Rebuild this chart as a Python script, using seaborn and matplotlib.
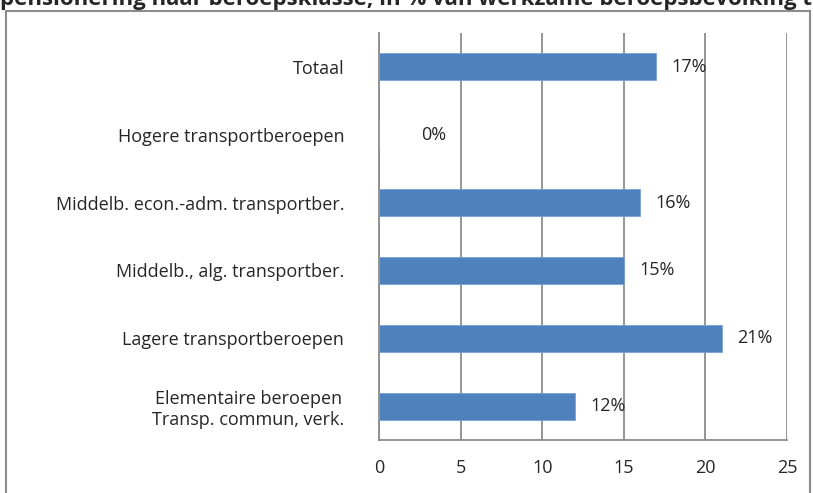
import matplotlib
matplotlib.use("Agg")
import matplotlib.pyplot as plt
import seaborn as sns
import pandas as pd
from matplotlib.patches import Rectangle

# === Data ===
categories = [
    "Totaal",
    "Hogere transportberoepen",
    "Middelb. econ.-adm. transportber.",
    "Middelb., alg. transportber.",
    "Lagere transportberoepen",
    "Elementaire beroepen\nTransp. commun, verk.",
]
values = [17, 0, 16, 15, 21, 12]
x_ticks = [0, 5, 10, 15, 20, 25]
title = "pensionering naar beroepsklasse, in % van werkzame beroepsbevolking transport"

df = pd.DataFrame({"cat": categories, "val": values})

# === Style ===
sns.set_style("white")
plt.rcParams["font.family"] = ["Open Sans", "DejaVu Sans"]

fig = plt.figure(figsize=(8.13, 4.93), dpi=100)
ax = fig.add_axes([379 / 813, 1 - 440 / 493, (787 - 379) / 813, (440 - 33) / 493])

sns.barplot(data=df, x="val", y="cat", orient="h", color="#4f81bd", saturation=1,
            width=0.4, ax=ax, edgecolor="#7ba1d4", linewidth=0.6, zorder=3)

ax.set_xlim(0, 25)
ax.set_xticks(x_ticks)
ax.set_xlabel("")
ax.set_ylabel("")
ax.grid(axis="x", color="#8c8c8c", linewidth=1.3, zorder=0)
ax.grid(axis="y", visible=False)

for s in ["top", "right"]:
    ax.spines[s].set_visible(False)
for s in ["left", "bottom"]:
    ax.spines[s].set_color("#8c8c8c")
    ax.spines[s].set_linewidth(1.3)

# y ticks at category boundaries, labels at centres
n = len(categories)
ax.set_yticks([i - 0.5 for i in range(n + 1)], minor=False)
ax.set_yticklabels([])
ax.set_yticks(list(range(n)), minor=True)
ax.set_yticklabels(categories, minor=True, fontsize=13, ha="right", multialignment="center")
ax.tick_params(axis="y", which="major", length=6, width=1.3, color="#8c8c8c", direction="out")
ax.tick_params(axis="y", which="minor", length=0, pad=25)
ax.tick_params(axis="x", length=6, width=1.3, color="#8c8c8c", labelsize=13, pad=8)
ax.set_ylim(n - 0.5, -0.5)

# value labels
for i, v in enumerate(values):
    off = 30 if v == 0 else 11
    ax.annotate(f"{v}%", (v, i), xytext=(off, 0), textcoords="offset points",
                va="center", ha="left", fontsize=13)

# outer frame and clipped title
fig.patches.append(Rectangle((6 / 813, -0.1), (810 - 6) / 813, 1.1 - 11 / 493,
                             transform=fig.transFigure, fill=False,
                             edgecolor="#8c8c8c", linewidth=1.5))
fig.text(0, 1 - 5 / 493, title, fontsize=16, fontweight="bold",
         ha="left", va="baseline")

fig.savefig("out.png", dpi=100)
